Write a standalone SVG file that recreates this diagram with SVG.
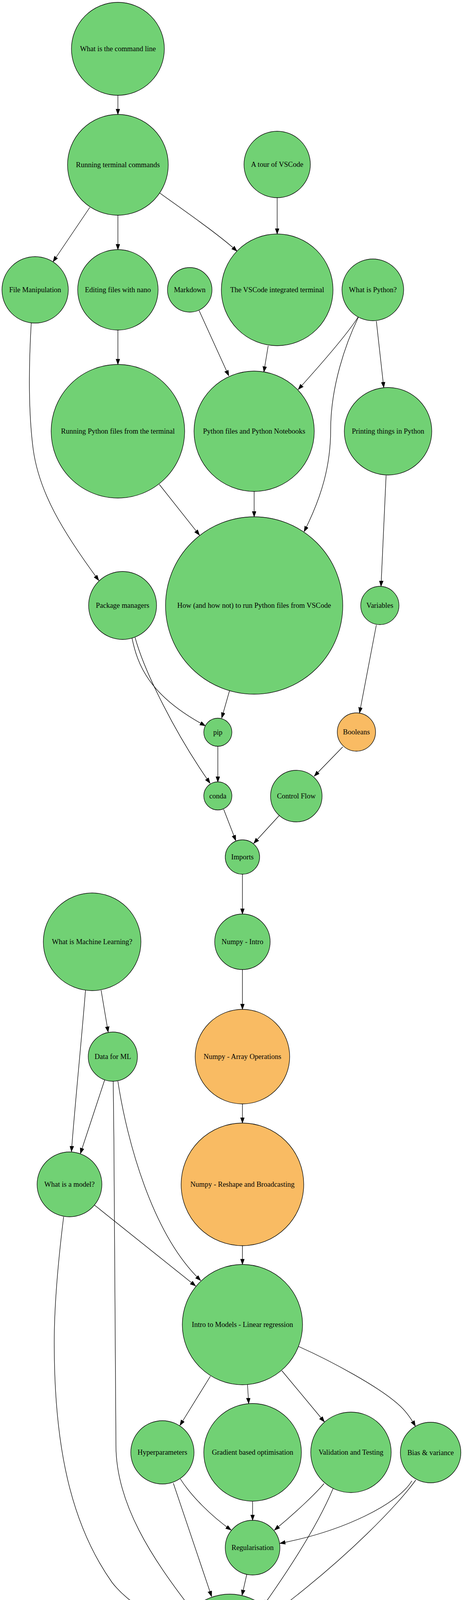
<svg xmlns="http://www.w3.org/2000/svg" width="1186" height="6467" viewBox="0 0 1186 6467">
<style>
.n circle{fill:#71d174;stroke:#000;stroke-width:1.3}
.n.o circle{fill:#f9bb63}
.n text{font-family:"Liberation Serif","Times New Roman",serif;font-size:18.5px;fill:#000;text-anchor:middle}
#edges path{fill:none;stroke:#000;stroke-width:1.3;marker-end:url(#ah)}
</style>
<defs>
<marker id="ah" markerUnits="userSpaceOnUse" markerWidth="15" markerHeight="11" refX="14" refY="5" orient="auto">
<path d="M0,0 L14,5 L0,10 z" fill="#000" stroke="#000" stroke-width="1"/>
</marker>
</defs>
<rect width="1186" height="6467" fill="#fff"/>
<g id="edges">
<path d="M302,244 L302,293"/>
<path d="M230,531 L136,670"/>
<path d="M302,551 L302,639"/>
<path d="M409,494 C470,538 560,600 607,643"/>
<path d="M710,506 L710,599"/>
<path d="M510,795 L586,962"/>
<path d="M687,885 L676,952"/>
<path d="M917,812 C890,855 820,935 764,997"/>
<path d="M918,812 C885,880 847,990 847,1100 C847,1190 825,1270 779,1361"/>
<path d="M964,822 L983,992"/>
<path d="M302,845 L302,933"/>
<path d="M80,827 C74,930 72,1050 85,1150 C100,1260 160,1360 253,1486"/>
<path d="M408,1240 L511,1370"/>
<path d="M651,1258 L651,1323"/>
<path d="M989,1217 L976,1501"/>
<path d="M338,1633 C352,1700 380,1780 526,1858"/>
<path d="M346,1632 C370,1720 450,1880 538,2005"/>
<path d="M588,1768 L568,1838"/>
<path d="M558,1910 L558,2002"/>
<path d="M964,1600 L921,1825"/>
<path d="M878,1912 L805,1987"/>
<path d="M573,2072 L604,2152"/>
<path d="M715,2088 L650,2159"/>
<path d="M621,2238 L621,2340"/>
<path d="M621,2482 L621,2584"/>
<path d="M621,2826 L621,2875"/>
<path d="M621,3189 L621,3237"/>
<path d="M259,2535 L277,2642"/>
<path d="M219,2535 C210,2650 190,2850 183,2948"/>
<path d="M268,2765 L206,2953"/>
<path d="M290,2768 C294,3100 297,3450 297,3700 C297,3850 390,3990 490,4119"/>
<path d="M302,2768 C325,2920 390,3160 514,3278"/>
<path d="M242,3085 L501,3292"/>
<path d="M163,3115 C150,3220 138,3350 139,3450 C140,3700 180,3900 287,4051 C325,4100 385,4135 458,4171"/>
<path d="M539,3523 L461,3649"/>
<path d="M634,3545 L637,3593"/>
<path d="M722,3509 L831,3640"/>
<path d="M765,3447 C850,3485 970,3550 1020,3595 C1040,3612 1055,3635 1064,3651"/>
<path d="M462,3786 C490,3830 540,3880 592,3917"/>
<path d="M444,3797 L542,4087"/>
<path d="M647,3844 L647,3892"/>
<path d="M830,3798 C810,3822 760,3870 703,3917"/>
<path d="M853,3811 C820,3890 760,3990 675,4110"/>
<path d="M1055,3791 C1020,3850 880,3920 717,3951"/>
<path d="M1065,3789 C1020,3850 900,3980 697,4133"/>
<path d="M632,4031 L620,4084"/>
<path d="M588.5,4357 L588.5,4405"/>
<path d="M589,4615 L589,4664"/>
<path d="M588.5,4835 L588.5,4882"/>
<path d="M554,5038 L505,5146"/>
<path d="M622,5038 L652,5104"/>
<path d="M470,5305 L470,5400"/>
<path d="M415,5287 C390,5320 360,5360 345,5395 C300,5500 240,5700 214,5849"/>
<path d="M518,5292 C560,5350 640,5430 700,5478 C790,5552 850,5620 890,5730 C920,5820 940,5900 936,5980 C932,6070 905,6160 850,6225 C805,6278 720,6312 643,6338"/>
<path d="M381,5596 C320,5660 260,5760 228,5852"/>
<path d="M500,5631 L517,5691"/>
<path d="M224,6038 C240,6110 270,6190 318,6237 C360,6280 400,6300 449,6314"/>
</g>
<g id="n1" class="n"><circle cx="302" cy="125" r="119"/><text x="302" y="131">What is the command line</text></g>
<g id="n2" class="n"><circle cx="302" cy="422" r="129"/><text x="302" y="428">Running terminal commands</text></g>
<g id="n3" class="n"><circle cx="710" cy="421" r="85"/><text x="710" y="427">A tour of VSCode</text></g>
<g id="n4" class="n"><circle cx="90" cy="742" r="85"/><text x="90" y="748">File Manipulation</text></g>
<g id="n5" class="n"><circle cx="302" cy="742" r="103"/><text x="302" y="748">Editing files with nano</text></g>
<g id="n6" class="n"><circle cx="486" cy="742" r="57"/><text x="486" y="748">Markdown</text></g>
<g id="n7" class="n"><circle cx="710" cy="742" r="143"/><text x="710" y="748">The VSCode integrated terminal</text></g>
<g id="n8" class="n"><circle cx="955" cy="742" r="79"/><text x="955" y="748">What is Python?</text></g>
<g id="n9" class="n"><circle cx="302" cy="1104" r="171"/><text x="302" y="1110">Running Python files from the terminal</text></g>
<g id="n10" class="n"><circle cx="651" cy="1104" r="154"/><text x="651" y="1110">Python files and Python Notebooks</text></g>
<g id="n11" class="n"><circle cx="994" cy="1104" r="112"/><text x="994" y="1110">Printing things in Python</text></g>
<g id="n12" class="n"><circle cx="314" cy="1550" r="87"/><text x="314" y="1556">Package managers</text></g>
<g id="n13" class="n"><circle cx="651" cy="1550" r="227"/><text x="651" y="1556">How (and how not) to run Python files from VSCode</text></g>
<g id="n14" class="n"><circle cx="973" cy="1550" r="49"/><text x="973" y="1556">Variables</text></g>
<g id="n15" class="n"><circle cx="558" cy="1874.5" r="36"/><text x="558" y="1880.5">pip</text></g>
<g id="n16" class="n o"><circle cx="913" cy="1874" r="49"/><text x="913" y="1880">Booleans</text></g>
<g id="n17" class="n"><circle cx="558" cy="2037.5" r="36"/><text x="558" y="2043.5">conda</text></g>
<g id="n18" class="n"><circle cx="759" cy="2038" r="66"/><text x="759" y="2044">Control Flow</text></g>
<g id="n19" class="n"><circle cx="621" cy="2194" r="44"/><text x="621" y="2200">Imports</text></g>
<g id="n20" class="n"><circle cx="236" cy="2411" r="125"/><text x="236" y="2417">What is Machine Learning?</text></g>
<g id="n21" class="n"><circle cx="621" cy="2411" r="71"/><text x="621" y="2417">Numpy - Intro</text></g>
<g id="n22" class="n"><circle cx="289" cy="2705" r="63"/><text x="289" y="2711">Data for ML</text></g>
<g id="n23" class="n o"><circle cx="621" cy="2705" r="121"/><text x="621" y="2711">Numpy - Array Operations</text></g>
<g id="n24" class="n"><circle cx="178" cy="3032" r="83"/><text x="178" y="3038">What is a model?</text></g>
<g id="n25" class="n o"><circle cx="621" cy="3032" r="157"/><text x="621" y="3038">Numpy - Reshape and Broadcasting</text></g>
<g id="n26" class="n"><circle cx="621" cy="3391" r="154"/><text x="621" y="3397">Intro to Models - Linear regression</text></g>
<g id="n27" class="n"><circle cx="416" cy="3718" r="81"/><text x="416" y="3724">Hyperparameters</text></g>
<g id="n28" class="n"><circle cx="647" cy="3718" r="125"/><text x="647" y="3724">Gradient based optimisation</text></g>
<g id="n29" class="n"><circle cx="899" cy="3718" r="103"/><text x="899" y="3724">Validation and Testing</text></g>
<g id="n30" class="n"><circle cx="1103" cy="3718.5" r="77.5"/><text x="1103" y="3724.5">Bias &amp; variance</text></g>
<g id="n31" class="n"><circle cx="647" cy="3962" r="70"/><text x="647" y="3968">Regularisation</text></g>
<g id="n32" class="n"><circle cx="588.5" cy="4219" r="138"/><text x="588.5" y="4225">Essential ML Concepts Review</text></g>
<g id="n33" class="n"><circle cx="589" cy="4510" r="105"/><text x="589" y="4516">What is deep learning?</text></g>
<g id="n34" class="n"><circle cx="588.5" cy="4749.5" r="85.5"/><text x="588.5" y="4755.5">What is PyTorch?</text></g>
<g id="n35" class="n"><circle cx="588.5" cy="4963" r="81"/><text x="588.5" y="4969">PyTorch Tensors</text></g>
<g id="n36" class="n"><circle cx="470" cy="5222" r="83"/><text x="470" y="5228">PyTorch Datasets</text></g>
<g id="n37" class="n"><circle cx="707" cy="5222" r="129.5"/><text x="707" y="5228">Navigating the PyTorch docs</text></g>
<g id="n38" class="n"><circle cx="470" cy="5517" r="117"/><text x="470" y="5523">Custom PyTorch Datasets</text></g>
<g id="n39" class="n"><circle cx="200" cy="5945" r="96"/><text x="200" y="5951">PyTorch Transforms</text></g>
<g id="n40" class="n"><circle cx="583" cy="5944.5" r="262.5"/><text x="583" y="5950.5">Creating a PyTorch Dataset from the Classic Diabetes Dataset</text></g>
<g id="n41" class="n"><circle cx="542" cy="6357.5" r="103"/><text x="542" y="6363.5">PyTorch Data Loaders</text></g>
</svg>
